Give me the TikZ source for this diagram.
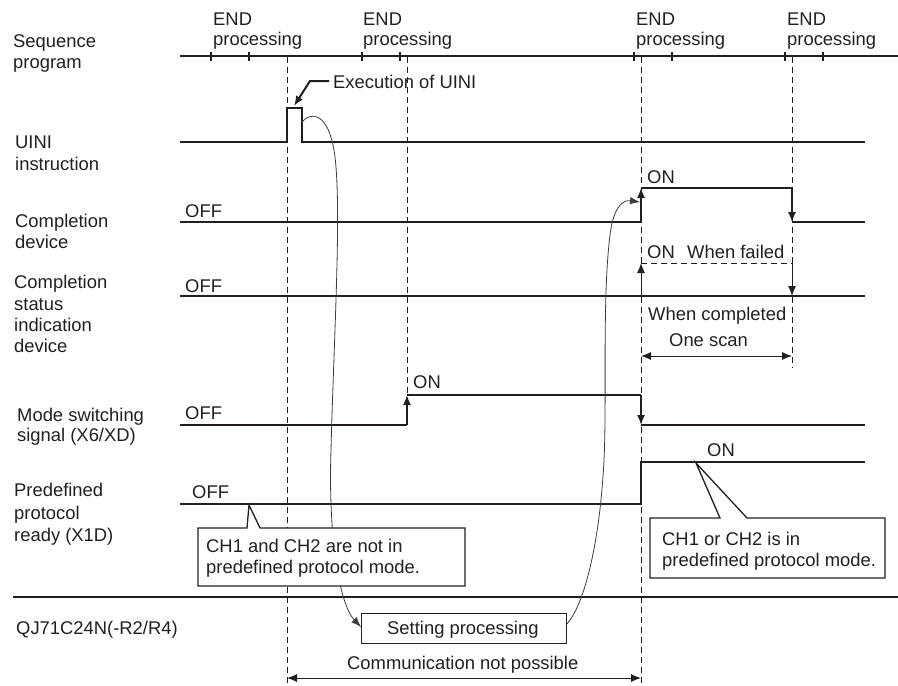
\documentclass[tikz,border=0pt]{standalone}
\usepackage{fontspec}
\setmainfont{Liberation Sans}
\usetikzlibrary{arrows.meta}
\definecolor{ink}{RGB}{35,31,32}
\definecolor{curve}{RGB}{60,60,60}
\begin{document}
\begin{tikzpicture}[x=1pt,y=-1pt,
  lbl/.style={anchor=base west, inner sep=0pt, text=ink, font=\fontsize{18.4}{22}\selectfont},
  sig/.style={draw=ink, line width=1.3pt},
  thicksig/.style={draw=ink, line width=2.3pt},
  vdash/.style={draw=ink, line width=0.9pt, dash pattern=on 6pt off 4pt},
  tipend/.style={-{Latex[length=10pt,width=8pt]}},
  dbl/.style={{Latex[length=10pt,width=8pt]}-{Latex[length=10pt,width=8pt]}, draw=ink, line width=1pt},
  flow/.style={draw=curve, line width=0.8pt, -{Latex[length=10pt,width=7.5pt]}},
  callout/.style={draw=ink, fill=white, line width=1.3pt},
  tickmark/.style={draw=ink, line width=2pt},
]
\useasboundingbox (0,0) rectangle (898,686);

% ---------- dashed time markers ----------
\coordinate (d1t) at (287,57);  \coordinate (d1b) at (287,686);
\coordinate (d2t) at (407,57);  \coordinate (d2b) at (407,395);
\coordinate (d3t) at (641,57);  \coordinate (d3b) at (641,686);
\coordinate (d4t) at (792,57);  \coordinate (d4b) at (792,368);
\draw[vdash] (d1t) -- (d1b);
\draw[vdash] (d2t) -- (d2b);
\draw[vdash] (d3t) -- (d3b);
\draw[vdash] (d4t) -- (d4b);

% ---------- sequence program ----------
\coordinate (sp0) at (180,56); \coordinate (sp1) at (898,56);
\draw[thicksig] (sp0) -- (sp1);
\foreach \x in {211,249,362,400,634,672,785,823}
  \draw[tickmark] (\x,52) -- (\x,61);

% ---------- UINI instruction ----------
\coordinate (u0) at (180,142); \coordinate (u1) at (287,142);
\coordinate (u2) at (287,108); \coordinate (u3) at (302,108);
\coordinate (u4) at (302,142); \coordinate (u5) at (865,142);
\draw[sig] (u0) -- (u1) -- (u2) -- (u3) -- (u4) -- (u5);

% Execution of UINI leader
\coordinate (ex0) at (329,81); \coordinate (ex1) at (310,81); \coordinate (ex2) at (294,106);
\draw[draw=ink, line width=2pt, tipend] (ex0) -- (ex1) -- (ex2);

% ---------- Completion device ----------
\coordinate (c0) at (180,222); \coordinate (c1) at (641,222);
\coordinate (c2) at (641,188); \coordinate (c3) at (792,188);
\coordinate (c4) at (792,222); \coordinate (c5) at (865,222);
\draw[sig] (c0) -- (c1);
\draw[sig, tipend] (c1) -- (c2);
\draw[sig] (c2) -- (c3);
\draw[sig, tipend] (c3) -- (c4);
\draw[sig] (c4) -- (c5);

% ---------- Completion status indication device ----------
\coordinate (s0) at (180,296); \coordinate (s1) at (865,296);
\coordinate (s2) at (641,296); \coordinate (s3) at (641,263);
\coordinate (s4) at (792,263); \coordinate (s5) at (792,296);
\draw[thicksig] (s0) -- (s1);
\draw[draw=ink, line width=1pt, tipend] (s2) -- (s3);
\draw[draw=ink, line width=1pt, dash pattern=on 6pt off 4pt] (s3) -- (s4);
\draw[draw=ink, line width=1pt, tipend] (s4) -- (s5);

% One scan
\coordinate (os0) at (641,356); \coordinate (os1) at (792,356);
\draw[dbl] (os0) -- (os1);

% ---------- Mode switching signal ----------
\coordinate (m0) at (180,425); \coordinate (m1) at (407,425);
\coordinate (m2) at (407,395); \coordinate (m3) at (641,395);
\coordinate (m4) at (641,425); \coordinate (m5) at (865,425);
\draw[sig, line width=1.6pt] (m0) -- (m1);
\draw[sig, line width=1.6pt, tipend] (m1) -- (m2);
\draw[sig, line width=1.6pt] (m2) -- (m3);
\draw[sig, line width=1.6pt, tipend] (m3) -- (m4);
\draw[sig, line width=1.6pt] (m4) -- (m5);

% ---------- Predefined protocol ready ----------
\coordinate (p0) at (180,504); \coordinate (p1) at (641,504);
\coordinate (p2) at (641,462); \coordinate (p3) at (865,462);
\draw[sig, line width=1.1pt] (p0) -- (p1) -- (p2) -- (p3);

% ---------- separator ----------
\coordinate (sep0) at (13,597); \coordinate (sep1) at (898,597);
\draw[thicksig] (sep0) -- (sep1);

% ---------- Setting processing box ----------
\node[draw=ink, line width=1.3pt, fill=white, minimum width=205pt, minimum height=30pt, inner sep=0pt, anchor=north west] (setbox) at (361,613) {};
\node[lbl] (settxt) at (387,634) {Setting processing};

% ---------- flow curves ----------
\coordinate (f1s) at (302,122);
\coordinate (f1e) at (361,627);
\draw[flow] (f1s) .. controls (310,112) and (326,112) .. (333,145)
  .. controls (343,190) and (334,330) .. (331,450)
  .. controls (328,540) and (340,605) .. (f1e);

\coordinate (f2s) at (566,625);
\coordinate (f2e) at (640,202);
\draw[flow] (f2s) .. controls (585,605) and (600,540) .. (604,460)
  .. controls (607,400) and (602,300) .. (610,235)
  .. controls (614,203) and (625,200) .. (f2e);

% ---------- callouts ----------
\draw[callout] (198,528) -- (247,528) -- (249,505) -- (260,528) -- (465,528)
  -- (465,586) -- (198,586) -- cycle;
\draw[callout] (650,518) -- (720,518) -- (696,463) -- (747,518) -- (885,518)
  -- (885,578) -- (650,578) -- cycle;

% communication not possible
\coordinate (cn0) at (287,678); \coordinate (cn1) at (641,678);
\draw[dbl] (cn0) -- (cn1);

% ---------- texts ----------
\node[lbl] (e1a) at (213,25) {END};  \node[lbl] (e1b) at (213,45) {processing};
\node[lbl] (e2a) at (363,25) {END};  \node[lbl] (e2b) at (363,45) {processing};
\node[lbl] (e3a) at (636,25) {END};  \node[lbl] (e3b) at (636,45) {processing};
\node[lbl] (e4a) at (787,25) {END};  \node[lbl] (e4b) at (787,45) {processing};

\node[lbl] (t1a) at (13,47) {Sequence};
\node[lbl] (t1b) at (13,68) {program};
\node[lbl] (t2a) at (15,148) {UINI};
\node[lbl] (t2b) at (15,170) {instruction};
\node[lbl] (t3a) at (15,227) {Completion};
\node[lbl] (t3b) at (15,248) {device};
\node[lbl] (t4a) at (14,288) {Completion};
\node[lbl] (t4b) at (14,310) {status};
\node[lbl] (t4c) at (14,331) {indication};
\node[lbl] (t4d) at (14,352) {device};
\node[lbl] (t5a) at (17,421) {Mode switching};
\node[lbl] (t5b) at (17,441) {signal (X6/XD)};
\node[lbl] (t6a) at (14,496) {Predefined};
\node[lbl] (t6b) at (14,519) {protocol};
\node[lbl] (t6c) at (14,541) {ready (X1D)};
\node[lbl] (t7) at (16,634) {QJ71C24N(-R2/R4)};

\node[lbl] (exec) at (333,88) {Execution of UINI};

\node[lbl] (off1) at (185,217) {OFF};
\node[lbl] (off2) at (185,292) {OFF};
\node[lbl] (off3) at (185,419) {OFF};
\node[lbl] (off4) at (192,498) {OFF};

\node[lbl] (on1) at (647,183) {ON};
\node[lbl] (on2) at (647,258) {ON};
\node[lbl] (fail) at (687,258) {When failed};
\node[lbl] (comp) at (648,320) {When completed};
\node[lbl] (scan) at (669,346) {One scan};
\node[lbl] (on3) at (413,388) {ON};
\node[lbl] (on4) at (707,456) {ON};

\node[lbl] (co1a) at (206,552) {CH1 and CH2 are not in};
\node[lbl] (co1b) at (206,573) {predefined protocol mode.};
\node[lbl] (co2a) at (662,545) {CH1 or CH2 is in};
\node[lbl] (co2b) at (662,566) {predefined protocol mode.};

\node[lbl] (comm) at (347,669) {Communication not possible};
\end{tikzpicture}
\end{document}
